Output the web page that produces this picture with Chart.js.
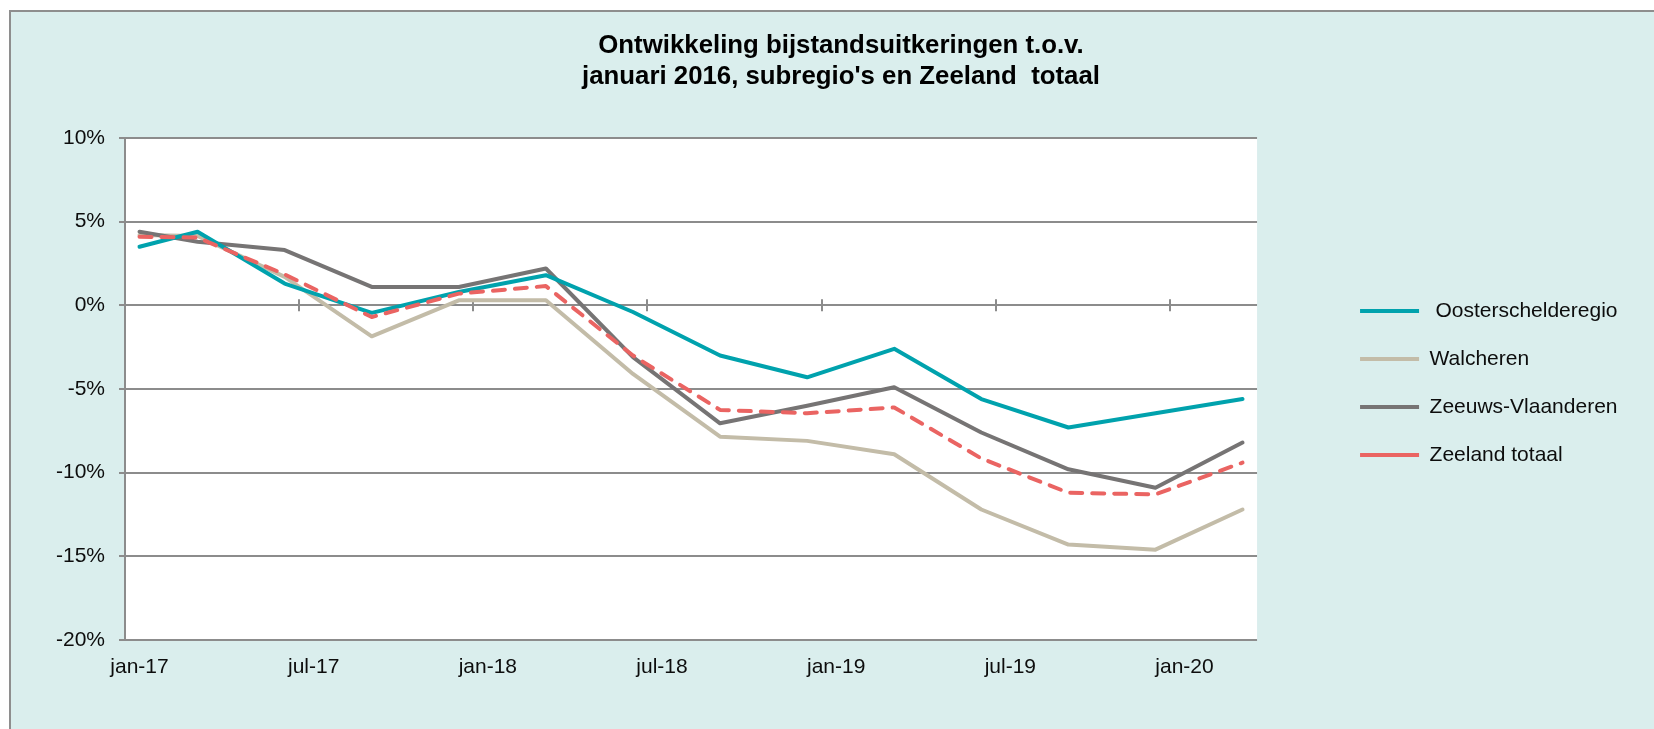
<!DOCTYPE html>
<html>
<head>
<meta charset="utf-8">
<script src="https://cdn.jsdelivr.net/npm/chart.js@4.4.1/dist/chart.umd.min.js"></script>
<style>
  html, body { margin: 0; padding: 0; background: #ffffff; overflow: hidden; }
  #frame { position: absolute; left: 9px; top: 10px; width: 1700px; height: 800px;
           border-top: 2px solid #8e8e8e; border-left: 2px solid #8e8e8e; background: #daeeed; }
  #c { position: absolute; left: 0; top: 0; }
</style>
</head>
<body>
<div id="frame"></div>
<canvas id="c" width="1654" height="729"></canvas>
<script>
// ---- data ----
const monthNames = ['jan','feb','mrt','apr','mei','jun','jul','aug','sep','okt','nov','dec'];
const periods = ['jan-17','mrt-17','jun-17','sep-17','dec-17','mrt-18','jun-18','sep-18','dec-18','mrt-19','jun-19','sep-19','dec-19','mrt-20'];
const xTickLabels = ['jan-17','jul-17','jan-18','jul-18','jan-19','jul-19','jan-20'];
const axisFirstMonth = 'jan-17';
const axisLastMonth = 'mrt-20';
const yTicks = [-20, -15, -10, -5, 0, 5, 10];

const oosterschelderegio = [3.5, 4.4, 1.3, -0.45, 0.8, 1.8, -0.4, -3.0, -4.3, -2.6, -5.6, -7.3, -6.45, -5.6];
const walcheren          = [4.2, 4.15, 1.7, -1.85, 0.3, 0.3, -4.1, -7.85, -8.1, -8.9, -12.2, -14.3, -14.6, -12.2];
const zeeuwsVlaanderen   = [4.4, 3.8, 3.3, 1.1, 1.1, 2.2, -3.1, -7.05, -6.0, -4.9, -7.6, -9.8, -10.9, -8.2];
const zeelandTotaal      = [4.1, 4.05, 1.85, -0.7, 0.7, 1.15, -3.0, -6.25, -6.45, -6.1, -9.15, -11.2, -11.3, -9.4];

const seriesNames = [' Oosterschelderegio', 'Walcheren', 'Zeeuws-Vlaanderen', 'Zeeland totaal'];
const titleLines = ['Ontwikkeling bijstandsuitkeringen t.o.v.', "januari 2016, subregio's en Zeeland  totaal"];

// ---- helpers ----
function monthIndex(label) {
  const [m, y] = label.split('-');
  const [m0, y0] = axisFirstMonth.split('-');
  return (parseInt(y, 10) - parseInt(y0, 10)) * 12 + monthNames.indexOf(m) - monthNames.indexOf(m0);
}
const xMin = monthIndex(axisFirstMonth) - 0.5;
const xMax = monthIndex(axisLastMonth) + 0.5;
// tick marks sit at the start of each labelled half-year (month boundary)
const xTickMarks = xTickLabels.slice(1).map(l => monthIndex(l) - 0.5);

function toPoints(values) {
  return values.map((v, i) => ({ x: monthIndex(periods[i]), y: v }));
}

const gridColor = '#8c8c8c';
const fontFamily = '"Liberation Sans", Arial, Helvetica, sans-serif';
Chart.defaults.font.family = fontFamily;
Chart.defaults.color = '#0d0d0d';

const plotDecor = {
  id: 'plotDecor',
  beforeDraw(chart) {
    const { ctx, chartArea: a } = chart;
    ctx.save();
    ctx.fillStyle = '#ffffff';
    ctx.fillRect(a.left, a.top, a.right - a.left, a.bottom - a.top);
    ctx.restore();
  },
  beforeDatasetsDraw(chart) {
    const { ctx } = chart;
    const xs = chart.scales.x, ys = chart.scales.y;
    const y0 = ys.getPixelForValue(0);
    ctx.save();
    ctx.strokeStyle = gridColor;
    ctx.lineWidth = 2;
    ctx.beginPath();
    xTickMarks.forEach(v => {
      const px = Math.round(xs.getPixelForValue(v));
      ctx.moveTo(px, y0 - 6);
      ctx.lineTo(px, y0 + 6);
    });
    ctx.stroke();
    ctx.restore();
  }
};

const common = { borderWidth: 4, pointRadius: 0, pointHoverRadius: 0, fill: false, tension: 0,
                 borderCapStyle: 'round', borderJoinStyle: 'round' };

const spacer = (width, weight) => ({
  type: 'linear', position: 'right', display: true, weight: weight,
  afterFit: axis => { axis.width = width; },
  grid: { display: false, drawTicks: false },
  border: { display: false },
  ticks: { display: false }
});

new Chart(document.getElementById('c'), {
  type: 'line',
  data: {
    datasets: [
      Object.assign({ label: seriesNames[0], data: toPoints(oosterschelderegio), borderColor: '#00a2ad', backgroundColor: '#00a2ad', order: 1 }, common),
      Object.assign({ label: seriesNames[1], data: toPoints(walcheren), borderColor: '#c3bca8', backgroundColor: '#c3bca8', order: 3 }, common),
      Object.assign({ label: seriesNames[2], data: toPoints(zeeuwsVlaanderen), borderColor: '#767474', backgroundColor: '#767474', order: 2 }, common),
      Object.assign({ label: seriesNames[3], data: toPoints(zeelandTotaal), borderColor: '#ea6462', backgroundColor: '#ea6462', order: 0, borderDash: [12, 10] }, common)
    ]
  },
  options: {
    responsive: false,
    animation: false,
    events: [],
    devicePixelRatio: 1,
    layout: { padding: { left: 28, right: 0, top: 0, bottom: 0 } },
    plugins: {
      title: {
        display: true,
        text: titleLines,
        color: '#000000',
        font: { family: fontFamily, size: 25.8, weight: 'bold', lineHeight: 31 / 25.8 },
        padding: { top: 30, bottom: 46 }
      },
      legend: {
        display: true,
        position: 'right',
        align: 'start',
        fullSize: false,
        maxWidth: 500,
        title: { display: true, text: ' ', font: { size: 10, lineHeight: 1.2 }, padding: { top: 123.5, bottom: 0 } },
        labels: {
          usePointStyle: true,
          pointStyle: 'line',
          pointStyleWidth: 59,
          padding: 27,
          color: '#0d0d0d',
          font: { family: fontFamily, size: 21 },
          sort: (a, b) => a.datasetIndex - b.datasetIndex
        }
      },
      tooltip: { enabled: false }
    },
    scales: {
      x: {
        type: 'linear',
        min: xMin,
        max: xMax,
        afterBuildTicks: axis => { axis.ticks = xTickLabels.map(l => ({ value: monthIndex(l) })); },
        afterFit: axis => { axis.height = 89; },
        grid: { display: false, drawTicks: false },
        border: { display: false },
        ticks: {
          autoSkip: false,
          maxRotation: 0,
          padding: 15,
          color: '#0d0d0d',
          font: { family: fontFamily, size: 21 },
          callback: value => {
            const i = xTickLabels.findIndex(l => monthIndex(l) === value);
            return i >= 0 ? xTickLabels[i] : '';
          }
        }
      },
      y: {
        min: yTicks[0],
        max: yTicks[yTicks.length - 1],
        afterBuildTicks: axis => { axis.ticks = yTicks.map(v => ({ value: v })); },
        afterFit: axis => { axis.width = 97; },
        grid: { color: gridColor, lineWidth: 2, drawTicks: true, tickLength: 6, tickColor: gridColor, tickWidth: 2 },
        border: { display: true, color: gridColor, width: 2 },
        ticks: {
          padding: 14,
          color: '#0d0d0d',
          font: { family: fontFamily, size: 21 },
          callback: v => v + '%'
        }
      },
      gapInner: spacer(76, 0),
      gapOuter: spacer(26.5, 2000)
    }
  },
  plugins: [plotDecor]
});
</script>
</body>
</html>
